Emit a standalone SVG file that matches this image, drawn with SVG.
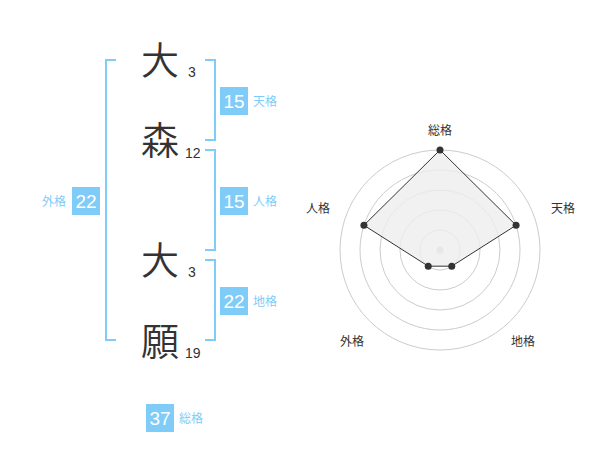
<svg xmlns="http://www.w3.org/2000/svg" width="600" height="470" viewBox="0 0 600 470">
<style>
.kanji{font-family:"Noto Sans CJK JP","Noto Sans CJK SC",sans-serif;font-size:38px;font-weight:350;fill:#333;text-anchor:middle}
.stroke{font-family:"Liberation Sans",Arial,sans-serif;font-size:14px;fill:#333}
.box{fill:#80ccf8}
.num{font-family:"Liberation Sans",Arial,sans-serif;font-size:19px;fill:#fff;text-anchor:middle}
.lbl{font-family:"Noto Sans CJK JP","Noto Sans CJK SC",sans-serif;font-size:12px;fill:#80ccf8}
.br{fill:none;stroke:#80ccf8;stroke-width:2}
.ring{fill:none;stroke:#cccccc;stroke-width:1}
.axl{font-family:"Noto Sans CJK JP","Noto Sans CJK SC",sans-serif;font-size:12px;fill:#333;text-anchor:middle}
.dot{fill:#333}
</style>
<rect width="600" height="470" fill="#fff"/>
<g id="name">
<g id="c1"><text class="kanji" x="160" y="74">大</text><text class="stroke" x="188" y="77">3</text></g>
<g id="c2"><text class="kanji" x="160" y="154">森</text><text class="stroke" x="185" y="158">12</text></g>
<g id="c3"><text class="kanji" x="160" y="274">大</text><text class="stroke" x="188" y="277">3</text></g>
<g id="c4"><text class="kanji" x="160" y="355">願</text><text class="stroke" x="185" y="358">19</text></g>
</g>
<g id="connectors">
<path class="br" d="M116,60 H106 V340 H116"/>
<path class="br" d="M205,60 H215 V140 H205"/>
<path class="br" d="M205,150 H215 V250 H205"/>
<path class="br" d="M205,260 H215 V340 H205"/>
</g>
<g id="gaikaku"><rect class="box" x="72" y="187" width="28" height="28"/><text class="num" x="86" y="208">22</text><text class="lbl" x="66" y="206" text-anchor="end">外格</text></g>
<g id="tenkaku"><rect class="box" x="220" y="87" width="28" height="28"/><text class="num" x="234" y="108">15</text><text class="lbl" x="253" y="106">天格</text></g>
<g id="jinkaku"><rect class="box" x="220" y="187" width="28" height="28"/><text class="num" x="234" y="208">15</text><text class="lbl" x="253" y="206">人格</text></g>
<g id="chikaku"><rect class="box" x="220" y="287" width="28" height="28"/><text class="num" x="234" y="308">22</text><text class="lbl" x="253" y="306">地格</text></g>
<g id="soukaku"><rect class="box" x="146" y="404" width="28" height="28"/><text class="num" x="160" y="425">37</text><text class="lbl" x="179" y="423">総格</text></g>
<g id="radar">
<circle class="ring" cx="440" cy="250" r="100"/>
<circle class="ring" cx="440" cy="250" r="80"/>
<circle class="ring" cx="440" cy="250" r="60"/>
<circle class="ring" cx="440" cy="250" r="40"/>
<circle class="ring" cx="440" cy="250" r="20"/>
<circle cx="440" cy="250" r="3.5" fill="#cccccc"/>
<polygon points="440,150 516.08,225.28 451.76,266.18 428.24,266.18 363.92,225.28" fill="#eeeeee" fill-opacity="0.8" stroke="#333" stroke-width="1"/>
<circle class="dot" cx="440" cy="150" r="3.5"/>
<circle class="dot" cx="516.08" cy="225.28" r="3.5"/>
<circle class="dot" cx="451.76" cy="266.18" r="3.5"/>
<circle class="dot" cx="428.24" cy="266.18" r="3.5"/>
<circle class="dot" cx="363.92" cy="225.28" r="3.5"/>
<text class="axl" x="440" y="135">総格</text>
<text class="axl" x="563" y="213">天格</text>
<text class="axl" x="318" y="213">人格</text>
<text class="axl" x="352" y="346">外格</text>
<text class="axl" x="523" y="346">地格</text>
</g>
</svg>
